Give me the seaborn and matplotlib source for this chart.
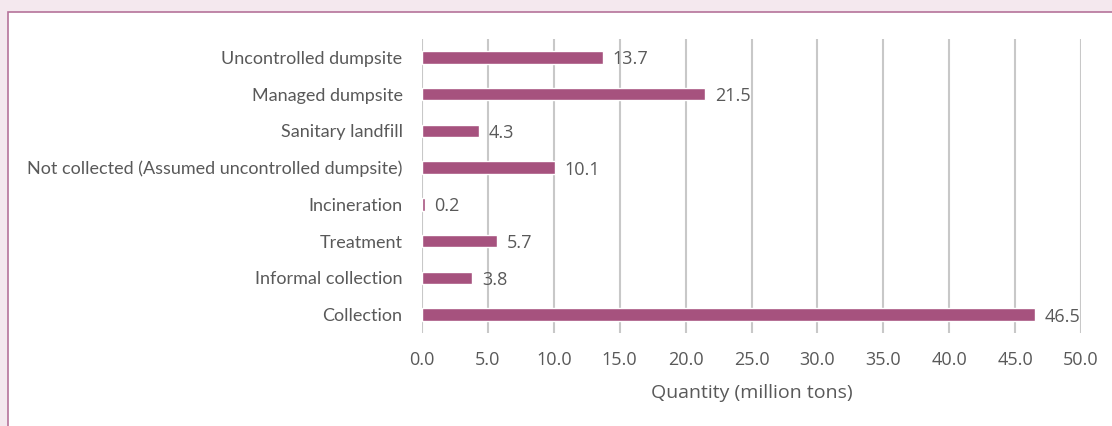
import matplotlib
matplotlib.use("Agg")
import matplotlib.pyplot as plt
from matplotlib.patches import Rectangle
import seaborn as sns
import pandas as pd

categories = ["Uncontrolled dumpsite", "Managed dumpsite", "Sanitary landfill",
              "Not collected (Assumed uncontrolled dumpsite)", "Incineration",
              "Treatment", "Informal collection", "Collection"]
values = [13.7, 21.5, 4.3, 10.1, 0.2, 5.7, 3.8, 46.5]
xticks = [0, 5, 10, 15, 20, 25, 30, 35, 40, 45, 50]
xlabel = "Quantity (million tons)"

sns.set_theme(style="white")
plt.rcParams['font.family'] = ['Lato', 'DejaVu Sans']
numfont = 'Open Sans'

W, H = 1112, 426
fig = plt.figure(figsize=(W / 100, H / 100), dpi=100)
fig.patch.set_facecolor("#F4E8EE")
fig.patches.append(Rectangle((8 / W, -0.1), 1.2, (H - 12) / H + 0.1,
                             transform=fig.transFigure, facecolor="white",
                             edgecolor="#B5739A", linewidth=1.2, zorder=-1))

ax = fig.add_axes([422 / W, 1 - 333 / H, (1081 - 422) / W, (333 - 39) / H])
ax.set_facecolor("none")
df = pd.DataFrame({"cat": categories, "val": values})
sns.barplot(data=df, x="val", y="cat", color="#A6527E", saturation=1,
            width=0.34, ax=ax, orient="h")
txt = "#595959"
for i, v in enumerate(values):
    ax.annotate(f"{v:.1f}", (v, i), xytext=(7, -1.5), textcoords="offset points",
                va="center", ha="left", fontsize=13, color=txt, fontfamily=numfont)
ax.set_xlim(0, 50)
ax.set_ylim(7.5, -0.5)
ax.set_xticks(xticks)
ax.set_xticklabels([f"{t:.1f}" for t in xticks], fontsize=13, color=txt,
                   fontfamily=numfont)
ax.tick_params(axis="y", labelsize=13, labelcolor=txt, length=0, pad=14)
ax.tick_params(axis="x", length=0, pad=13)
ax.set_ylabel("")
ax.set_xlabel(xlabel, fontsize=14, color=txt, labelpad=11, fontfamily=numfont)
ax.xaxis.grid(True, color="#C8C8C8", linewidth=1.5)
ax.set_axisbelow(True)
for s in ax.spines.values():
    s.set_visible(False)
fig.savefig("out.png", dpi=100, facecolor=fig.get_facecolor())
